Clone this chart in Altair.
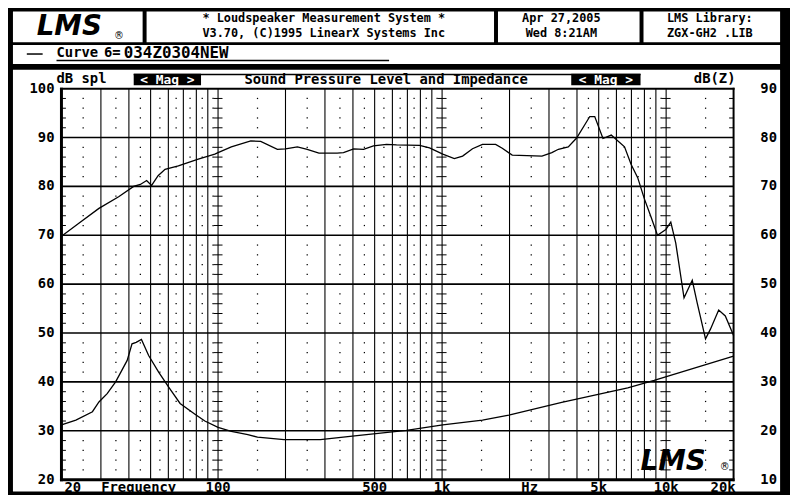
import altair as alt
import pandas as pd

# ---------------- data ----------------
spl_freq = [20, 24, 29.4, 36, 42, 45, 48, 50.5, 54, 58, 66.5, 81.6, 96.7, 100, 114.6, 140, 155, 184, 200, 226,
            250, 282, 340, 363, 403, 446, 494, 565, 626, 794, 879, 1007, 1134, 1235, 1367, 1514, 1734, 1856, 2056, 2790,
            3090, 3305, 3657, 3985, 4563, 4801, 5225, 5690, 5990, 6520, 6980, 7465, 7990, 8555, 9150, 9970, 10490, 11040,
            12020, 13080, 13750, 14990, 15770, 17160, 18370, 20000]
spl_db = [69.8, 72.5, 75.5, 77.9, 80.0, 80.4, 81.2, 80.2, 82.2, 83.5, 84.2, 85.6, 86.6, 86.9, 88.1, 89.3, 89.2, 87.6, 87.7, 88.1,
          87.6, 86.8, 86.8, 86.9, 87.7, 87.6, 88.3, 88.6, 88.5, 88.4, 87.9, 86.6, 85.7, 86.2, 87.7, 88.6, 88.6, 87.8, 86.4, 86.2,
          86.9, 87.6, 88.1, 89.9, 94.3, 94.3, 89.8, 90.5, 89.6, 88.1, 84.5, 81.8, 77.5, 73.8, 70.0, 71.2, 72.7, 68.4,
          57.2, 60.8, 56.2, 48.8, 50.8, 54.7, 53.5, 49.5]

imp_freq = [20, 23.2, 27.5, 29.4, 32, 34.9, 39.3, 41.3, 43.1, 45.5, 49, 54.3, 60.1, 67.7, 78.9, 87.3, 100, 114.6, 135.8, 150,
            197, 286, 417, 693, 1007, 1514, 1985, 3420, 4801, 6740, 8840, 20000]
imp_dbz = [21.2, 22.2, 23.9, 25.9, 27.6, 30.0, 34.4, 37.8, 38.1, 38.7, 35.4, 32.0, 29.0, 25.6, 23.4, 22.0, 20.7, 19.9, 19.2, 18.7,
           18.2, 18.2, 19.0, 20.1, 21.2, 22.2, 23.2, 25.8, 27.3, 28.8, 30.3, 35.3]

left_ticks = [20, 30, 40, 50, 60, 70, 80, 90, 100]
right_ticks = [10, 20, 30, 40, 50, 60, 70, 80, 90]
freq_label_f = [20, 100, 500, 1000, 5000, 10000, 20000]
freq_label_t = ["20", "100", "500", "1k", "5k", "10k", "20k"]

grid_solid_f = [30, 40, 50, 60, 70, 80, 90, 100, 200, 300, 400, 500, 600, 700, 800, 900, 1000,
                2000, 3000, 4000, 5000, 6000, 7000, 8000, 9000, 10000]
grid_decade_f = [100, 1000, 10000]
grid_dot_f = [25, 35, 45, 55, 65, 75, 85, 95, 150, 250, 350, 450, 550, 650, 750, 850, 950,
              1500, 2500, 3500, 4500, 5500, 6500, 7500, 8500, 9500, 15000]
grid_major_db = [30, 40, 50, 60, 70, 80, 90]
grid_minor_db = [22, 24, 26, 28, 32, 34, 36, 38, 42, 44, 46, 48, 52, 54, 56, 58, 62, 64, 66, 68,
                 72, 74, 76, 78, 82, 84, 86, 88, 92, 94, 96, 98]

# ---------------- layout ----------------
W, H = 790, 487
X0, X1 = 54, 733
Y0, Y1 = 474, 79
MONO = "DejaVu Sans Mono"

xs = alt.Scale(type="log", domain=[20, 20000], range=[X0, X1], nice=False)
ys = alt.Scale(type="linear", domain=[20, 100], range=[Y0, Y1], nice=False, zero=False)
zs = alt.Scale(type="linear", domain=[10, 90], range=[Y0, Y1], nice=False, zero=False)

one = pd.DataFrame({"k": [0]})


def box(x1, x2, y1, y2, color):
    return alt.Chart(one).mark_rect(color=color, opacity=1).encode(
        x=alt.value(x1), x2=alt.value(x2), y=alt.value(y1), y2=alt.value(y2))


def hline(x1, x2, y, w):
    return alt.Chart(one).mark_rule(color="black", strokeWidth=w).encode(
        x=alt.value(x1), x2=alt.value(x2), y=alt.value(y))


def label(s, x, y, size=14, align="center", color="black", font=MONO, style="normal",
          weight="bold", baseline="middle"):
    return alt.Chart(one).mark_text(text=s, align=align, baseline=baseline, fontSize=size, font=font,
                                    fontStyle=style, fontWeight=weight, color=color).encode(
        x=alt.value(x), y=alt.value(y))


def X(field):
    return alt.X(field, type="quantitative", scale=xs, axis=None)


def Y(field, sc=ys):
    return alt.Y(field, type="quantitative", scale=sc, axis=None)


layers = []
# white panels on black background
layers += [
    box(5, 136, 1, 32, "white"),
    box(140, 491, 1, 32, "white"),
    box(495, 638, 1, 32, "white"),
    box(642, 780, 1, 32, "white"),
    box(5, 780, 35, 54, "white"),
    box(5, 780, 60, 486, "white"),
]

# grid
dots_df = pd.DataFrame([(f, d) for f in grid_dot_f for d in grid_minor_db], columns=["f", "db"])
dec_df = pd.DataFrame([(f, d) for f in grid_decade_f for d in grid_minor_db], columns=["f", "db"])
minor_df = pd.DataFrame({"db": grid_minor_db})

layers.append(alt.Chart(pd.DataFrame({"f": grid_solid_f})).mark_rule(color="black", strokeWidth=1.1).encode(
    x=X("f"), y=alt.value(Y1), y2=alt.value(Y0)))
layers.append(alt.Chart(pd.DataFrame({"db": grid_major_db})).mark_rule(color="black", strokeWidth=1.6).encode(
    y=Y("db"), x=alt.value(X0), x2=alt.value(X1)))
layers.append(alt.Chart(dots_df).mark_square(size=1.6, color="black", opacity=1).encode(x=X("f"), y=Y("db")))
layers.append(alt.Chart(dec_df).mark_tick(orient="horizontal", size=9, thickness=1, color="black", opacity=1).encode(
    x=X("f"), y=Y("db")))
layers.append(alt.Chart(minor_df).mark_tick(orient="horizontal", size=5, thickness=1, color="black", opacity=1).encode(
    x=alt.value(X0 + 2), y=Y("db")))
layers.append(alt.Chart(minor_df).mark_tick(orient="horizontal", size=5, thickness=1, color="black", opacity=1).encode(
    x=alt.value(X1 - 2), y=Y("db")))

# plot frame
layers.append(alt.Chart(pd.DataFrame({"f": [20]})).mark_rule(color="black", strokeWidth=3).encode(
    x=X("f"), y=alt.value(Y1 - 1), y2=alt.value(Y0 + 1.5)))
layers.append(alt.Chart(pd.DataFrame({"f": [20000]})).mark_rule(color="black", strokeWidth=2).encode(
    x=X("f"), y=alt.value(Y1 - 1), y2=alt.value(Y0 + 1.5)))
layers.append(alt.Chart(pd.DataFrame({"db": [20]})).mark_rule(color="black", strokeWidth=3).encode(
    y=Y("db"), x=alt.value(X0 - 1.5), x2=alt.value(X1 + 1)))
layers.append(alt.Chart(pd.DataFrame({"db": [100]})).mark_rule(color="black", strokeWidth=2).encode(
    y=Y("db"), x=alt.value(X0 - 1.5), x2=alt.value(X1 + 1)))

# curves
layers.append(alt.Chart(pd.DataFrame({"f": spl_freq, "db": spl_db})).mark_line(
    color="black", strokeWidth=1.3).encode(x=X("f"), y=Y("db")))
layers.append(alt.Chart(pd.DataFrame({"f": imp_freq, "z": imp_dbz})).mark_line(
    color="black", strokeWidth=1.3).encode(x=X("f"), y=Y("z", zs)))

# axis labels
lab_style = dict(baseline="middle", fontSize=14, font=MONO, fontWeight="bold", color="black")
layers.append(alt.Chart(pd.DataFrame({"v": left_ticks})).mark_text(align="right", **lab_style).encode(
    x=alt.value(47), y=Y("v"), text=alt.Text("v:Q", format="d")))
layers.append(alt.Chart(pd.DataFrame({"v": right_ticks})).mark_text(align="left", **lab_style).encode(
    x=alt.value(760), y=Y("v", zs), text=alt.Text("v:Q", format="d")))
fl = pd.DataFrame({"f": freq_label_f, "t": freq_label_t})
layers.append(alt.Chart(fl.iloc[:1]).mark_text(align="left", dx=3, **lab_style).encode(
    x=X("f"), y=alt.value(482), text="t:N"))
layers.append(alt.Chart(fl.iloc[1:-1]).mark_text(align="center", **lab_style).encode(
    x=X("f"), y=alt.value(482), text="t:N"))
layers.append(alt.Chart(fl.iloc[-1:]).mark_text(align="right", dx=2, **lab_style).encode(
    x=X("f"), y=alt.value(482), text="t:N"))
layers.append(label("Frequency", 132, 482))
layers.append(label("Hz", 527, 482))

# header texts
layers += [
    label("* Loudspeaker Measurement System *", 319, 8, size=12),
    label("V3.70, (C)1995 LinearX Systems Inc", 319, 22.5, size=12),
    label("Apr 27,2005", 559, 8, size=12),
    label("Wed  8:21AM", 559, 22.5, size=12),
    label("LMS Library:", 709, 8, size=12),
    label("ZGX-GH2 .LIB", 709, 22.5, size=12),
]

# curve legend row
layers += [
    hline(19, 35, 44, 1.5),
    label("Curve", 49, 43.5, align="left"),
    label("6=", 97, 43.5, align="left"),
    label("034Z0304NEW", 117, 43.5, size=16, align="left"),
    hline(49, 385, 50.5, 1.5),
]

# title bar
layers += [
    label("dB spl", 49, 69, align="left"),
    box(127, 639, 64, 65.5, "black"),
    box(127, 195, 64, 75.5, "black"),
    box(569, 639, 64, 75.5, "black"),
    label("< Mag >", 161, 70, size=13, color="white"),
    label("< Mag >", 604, 70, size=13, color="white"),
    label("Sound Pressure Level and Impedance", 382, 70),
    label("dB(Z)", 735, 69, align="right"),
]

# logos
layers += [
    label("LMS", 29, 25, size=28, align="left", font="DejaVu Sans", style="italic", baseline="alphabetic"),
    label("\u00ae", 112, 26, size=10, align="center", font="DejaVu Sans", weight="normal"),
    label("LMS", 639, 464, size=28, align="left", font="DejaVu Sans", style="italic", baseline="alphabetic"),
    label("\u00ae", 724, 461, size=10, align="center", font="DejaVu Sans", weight="normal"),
]

chart = alt.layer(*layers).resolve_scale(y="independent").properties(
    width=W, height=H, padding=0, autosize="none", background="black"
).configure_view(stroke=None)

chart.save("out.html", embed_options={"renderer": "svg", "actions": False})
